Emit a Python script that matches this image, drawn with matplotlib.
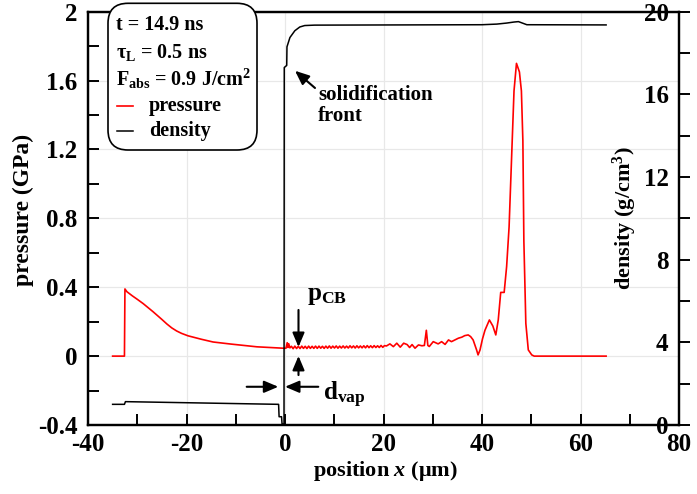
import numpy as np
import matplotlib
matplotlib.use('Agg')
import matplotlib.pyplot as plt
from matplotlib.patches import FancyBboxPatch
from matplotlib.lines import Line2D
from matplotlib.transforms import IdentityTransform

plt.rcParams['font.family'] = ['Liberation Serif', 'DejaVu Serif']
plt.rcParams['font.weight'] = 'bold'
plt.rcParams['axes.labelweight'] = 'bold'
plt.rcParams['axes.unicode_minus'] = False
plt.rcParams['mathtext.fontset'] = 'custom'
plt.rcParams['mathtext.rm'] = 'Liberation Serif:bold'
plt.rcParams['mathtext.bf'] = 'Liberation Serif:bold'
plt.rcParams['mathtext.it'] = 'Liberation Serif:italic:bold'
plt.rcParams['mathtext.default'] = 'rm'

# ---------------- data ----------------
# pressure (GPa): rarefaction tail on the vapour side
press_x_left = [-35.0, -32.6, -32.5, -32.1, -31.0, -30.0, -28.8, -26.8, -25.0, -24.0,
                -23.0, -22.0, -21.0, -19.7, -17.0, -14.6, -11.0, -8.0, -5.7, -3.0,
                -0.4, 0.2, 0.45, 0.6, 0.75, 1.0]
press_p_left = [0.0, 0.0, 0.39, 0.374, 0.35, 0.33, 0.305, 0.258, 0.213, 0.187,
                0.164, 0.146, 0.132, 0.118, 0.098, 0.082, 0.07, 0.061, 0.054, 0.05,
                0.046, 0.046, 0.078, 0.05, 0.072, 0.048]
# small ripples behind the solidification front
press_x_ripple = [1.3, 1.65, 2.0, 2.35, 2.7, 3.05, 3.4, 3.75, 4.1, 4.45,
                  4.8, 5.15, 5.5, 5.85, 6.2, 6.55, 6.9, 7.25, 7.6, 7.95,
                  8.3, 8.65, 9.0, 9.35, 9.7, 10.05, 10.4, 10.75, 11.1, 11.45,
                  11.8, 12.15, 12.5, 12.85, 13.2, 13.55, 13.9, 14.25, 14.6, 14.95,
                  15.3, 15.65, 16.0, 16.35, 16.7, 17.05, 17.4, 17.75, 18.1, 18.45,
                  18.8, 19.15, 19.5, 19.85, 20.2]
press_p_ripple = [0.057, 0.043, 0.058, 0.044, 0.057, 0.044, 0.058, 0.045, 0.057, 0.044,
                  0.058, 0.045, 0.057, 0.045, 0.058, 0.045, 0.058, 0.046, 0.057, 0.045,
                  0.058, 0.046, 0.059, 0.046, 0.058, 0.047, 0.059, 0.046, 0.058, 0.047,
                  0.059, 0.047, 0.058, 0.047, 0.060, 0.048, 0.059, 0.047, 0.060, 0.048,
                  0.059, 0.048, 0.060, 0.048, 0.061, 0.049, 0.060, 0.049, 0.061, 0.050,
                  0.060, 0.050, 0.062, 0.051, 0.061]
# compressive wave region
press_x_right = [20.6, 21.3, 22.0, 22.7, 23.4, 24.1, 24.8, 25.3, 25.8, 26.4,
                 27.1, 27.8, 28.3, 28.7, 29.0, 29.3, 30.1, 31.1, 31.8, 32.5,
                 33.2, 33.8, 34.5, 35.2, 35.9, 36.5, 37.2, 37.7, 38.2, 38.9,
                 39.2, 39.6, 40.1, 40.6, 41.5, 42.2, 42.8, 43.3, 43.8, 44.5,
                 45.0, 45.5, 46.0, 46.5, 47.0, 47.6, 48.0, 48.3, 48.5, 48.9,
                 49.4, 50.1, 50.6, 65.2]
press_p_right = [0.059, 0.071, 0.055, 0.075, 0.052, 0.075, 0.067, 0.05, 0.067, 0.046,
                 0.065, 0.06, 0.062, 0.15, 0.062, 0.056, 0.084, 0.071, 0.084, 0.068,
                 0.094, 0.084, 0.094, 0.104, 0.11, 0.119, 0.123, 0.113, 0.094, 0.036,
                 0.007, 0.036, 0.10, 0.15, 0.21, 0.175, 0.123, 0.21, 0.37, 0.37,
                 0.52, 0.75, 1.15, 1.54, 1.70, 1.65, 1.54, 1.25, 0.67, 0.19,
                 0.036, 0.007, 0.0, 0.0]

# density (g/cm^3)
dens_x = [-35.0, -32.6, -32.4, -1.3, -1.2, -0.7, -0.6, -0.2, -0.15, 0.35,
          0.4, 1.0, 2.0, 3.0, 4.0, 6.0, 40.0, 43.0, 45.0, 46.5,
          47.4, 48.2, 49.1, 65.2]
dens_v = [1.0, 1.0, 1.13, 1.0, 0.4, 0.4, 0.05, 0.05, 17.3, 17.4,
          18.3, 18.75, 19.08, 19.26, 19.33, 19.35, 19.37, 19.4, 19.45, 19.5,
          19.52, 19.45, 19.37, 19.36]

x_ticks = [-40, -20, 0, 20, 40, 60, 80]
x_ticklabels = ['-40', '-20', '0', '20', '40', '60', '80']
p_ticks = [-0.4, 0, 0.4, 0.8, 1.2, 1.6, 2.0]
p_ticklabels = ['-0.4', '0', '0.4', '0.8', '1.2', '1.6', '2']
d_ticks = [0, 4, 8, 12, 16, 20]
d_ticklabels = ['0', '4', '8', '12', '16', '20']

press_x = np.concatenate([press_x_left, press_x_ripple, press_x_right])
press_p = np.concatenate([press_p_left, press_p_ripple, press_p_right])

# ---------------- figure ----------------
W, H = 697, 494
fig = plt.figure(figsize=(W / 100, H / 100), dpi=100)
L, R, T, B = 88, 679, 11.7, 425
ax = fig.add_axes([L / W, 1 - B / H, (R - L) / W, (B - T) / H])
ax2 = ax.twinx()

ax.plot(press_x, press_p, color='#ff0000', lw=1.2, zorder=3)
ax2.plot(dens_x, dens_v, color='black', lw=1.1, zorder=3)

ax.set_xlim(-40, 80)
ax.set_ylim(-0.4, 2.0)
ax2.set_ylim(0, 20)

ax.set_xticks(x_ticks)
ax.set_xticklabels(x_ticklabels)
ax.set_xticks([-30, -10, 10, 30, 50, 70], minor=True)
ax.set_yticks(p_ticks)
ax.set_yticklabels(p_ticklabels)
ax.set_yticks([-0.2, 0.2, 0.6, 1.0, 1.4, 1.8], minor=True)
ax2.set_yticks(d_ticks)
ax2.set_yticklabels(d_ticklabels)
ax2.set_yticks([2, 6, 10, 14, 18], minor=True)

ax.tick_params(axis='both', which='both', direction='in', length=8, width=1.4,
               top=False, right=False, labelsize=18)
ax.tick_params(axis='x', pad=5.5)
ax.tick_params(axis='y', pad=7.5)
ax2.tick_params(axis='y', which='both', direction='out', length=8, width=1.4,
                labelsize=18)
# right-hand tick labels sit inside the frame, left of the right spine
ax2.tick_params(axis='y', which='major', pad=-15.5)

ax.set_axisbelow(True)
ax.grid(True, which='major', color='#e8e8e8', lw=0.9)

for a in (ax, ax2):
    for s in a.spines.values():
        s.set_linewidth(1.6)

ax.set_ylabel('pressure (GPa)', fontsize=17, va='center')
ax.yaxis.set_label_coords(-0.110, 0.52)
ax2.set_ylabel('density (g/cm$^{3}$)', fontsize=16, va='center', ha='center')
ax2.yaxis.set_label_coords(0.9086, 0.50)
ax.set_xlabel('position $\\mathit{x}$ (\u03bcm)', fontsize=16, va='center')
ax.xaxis.set_label_coords(0.5025, -0.112)

# ---------------- annotations ----------------
arrow_kw = dict(arrowstyle='-|>,head_length=0.85,head_width=0.36', lw=1.5,
                color='black', shrinkA=0, shrinkB=0, mutation_scale=10)
ax.annotate('', xy=(2.03, 1.657), xytext=(6.09, 1.557), arrowprops=arrow_kw, zorder=5)
ax.text(6.70, 1.487, 'solidification', fontsize=15, va='baseline', ha='left')
ax.text(6.70, 1.367, 'front', fontsize=15, va='baseline', ha='left')

ax.annotate('', xy=(2.74, 0.053), xytext=(2.74, 0.268), arrowprops=arrow_kw, zorder=5)
ax.annotate('', xy=(2.74, 0.001), xytext=(2.74, -0.110), arrowprops=arrow_kw, zorder=5)
ax.text(4.47, 0.325, 'p$_{\\mathrm{CB}}$', fontsize=18, va='baseline', ha='left')

ax.annotate('', xy=(-1.36, -0.178), xytext=(-7.78, -0.178), arrowprops=arrow_kw, zorder=5)
ax.annotate('', xy=(0.0, -0.178), xytext=(6.76, -0.178), arrowprops=arrow_kw, zorder=5)
ax.text(7.72, -0.255, 'd$_{\\mathrm{vap}}$', fontsize=18, va='baseline', ha='left')

# ---------------- legend box ----------------
box = FancyBboxPatch((108, H - 150), 149, 146.7,
                     boxstyle='round,pad=0,rounding_size=20',
                     transform=IdentityTransform(), facecolor='white',
                     edgecolor='black', lw=1.2, zorder=10)
fig.add_artist(box)

def fx(px):
    return px / W

def fy(py):
    return 1 - py / H

fs_leg = 14.5
fig.text(fx(116), fy(30), 't = 14.9 ns', fontsize=fs_leg, va='baseline', zorder=11)
fig.text(fx(116), fy(58), '\u03c4$_{\\mathrm{L}}$ = 0.5 ns', fontsize=fs_leg, va='baseline', zorder=11)
fig.text(fx(116), fy(86), 'F$_{\\mathrm{abs}}$ = 0.9 J/cm$^{2}$', fontsize=fs_leg, va='baseline', zorder=11)
fig.text(fx(149), fy(111), 'pressure', fontsize=fs_leg, va='baseline', zorder=11)
fig.text(fx(149), fy(136), 'density', fontsize=fs_leg, va='baseline', zorder=11)
fig.add_artist(Line2D([fx(117), fx(133)], [fy(106), fy(106)], color='#ff0000', lw=1.2, zorder=11))
fig.add_artist(Line2D([fx(117), fx(133)], [fy(131), fy(131)], color='black', lw=1.1, zorder=11))

fig.canvas.draw()
for t in ax2.yaxis.get_major_ticks():
    t.label2.set_horizontalalignment('right')

fig.savefig('out.png', dpi=100)
